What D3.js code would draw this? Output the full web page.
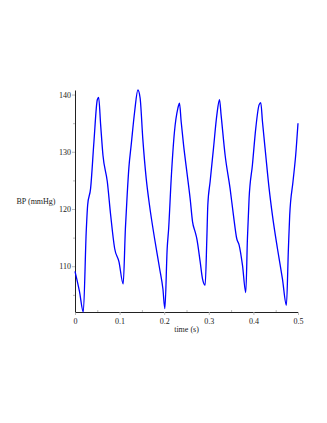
<!DOCTYPE html>
<html>
<head>
<meta charset="utf-8">
<script src="https://cdn.jsdelivr.net/npm/d3@7"></script>
<style>
	body { margin: 0; background: #fff; }
</style>
</head>
<body>
<script>
// time (s)
var times = [0, 0.01, 0.0186, 0.0253, 0.0284, 0.035, 0.0425, 0.05, 0.053, 0.0575, 0.0627, 0.0724, 0.08, 0.0889, 0.0985, 0.108,
	0.113, 0.117, 0.121, 0.126, 0.1337, 0.141, 0.146, 0.152, 0.1597, 0.167, 0.1785, 0.1897, 0.197, 0.2015,
	0.2067, 0.21, 0.2157, 0.223, 0.2306, 0.2343, 0.238, 0.2434, 0.2508, 0.2582, 0.2635, 0.2694, 0.2732, 0.2806, 0.2859, 0.2918,
	0.2956, 0.2978, 0.303, 0.3105, 0.318, 0.324, 0.3276, 0.3366, 0.3477, 0.3553, 0.3627, 0.368, 0.3755, 0.3829,
	0.3866, 0.3903, 0.3978, 0.4053, 0.4127, 0.4165, 0.4203, 0.4277, 0.4352, 0.4427, 0.4539, 0.4651, 0.474,
	0.4785, 0.4814, 0.4888, 0.4948, 0.5];
// blood pressure (mmHg)
var pressure = [109.1, 105.6, 102.0, 116.3, 120.7, 123.6, 131.8, 139.1, 139.5, 134.7, 129.4, 124.8, 118.9, 113.1, 110.8, 106.9,
	116.6, 122.5, 127.4, 131.2, 137.0, 140.8, 139.4, 132.3, 125.3, 120.7, 114.8, 109.6, 106.1, 102.6,
	113.1, 116.6, 125.3, 133.5, 137.6, 138.5, 135.3, 131.2, 126.5, 121.8, 117.8, 116.0, 114.8, 110.8, 107.8, 106.7,
	114.8, 120.7, 124.8, 130.6, 136.4, 139.1, 136.4, 129.4, 123.6, 118.9, 114.8, 113.7, 110.2, 105.4,
	114.8, 121.8, 127.7, 134.1, 138.2, 138.6, 135.3, 129.4, 123.6, 118.9, 113.1, 107.8, 103.2,
	113.1, 118.9, 124.8, 129.4, 135.0];

var xTicks = [0, 0.1, 0.2, 0.3, 0.4, 0.5];
var xMinorTicks = [0.05, 0.15, 0.25, 0.35, 0.45];
var yTicks = [110, 120, 130, 140];
var yMinorTicks = [105, 115, 125, 135];

var serif = "'Liberation Serif', 'Times New Roman', Times, serif";

var margin = { top: 90, right: 29, bottom: 111, left: 75 };
var width = 327 - margin.left - margin.right;
var height = 423 - margin.top - margin.bottom;

var data = times.map(function(t, i) {
	return { t: t, v: pressure[i] };
});

var svg = d3.select('body')
	.append('svg')
		.attr('width', 327)
		.attr('height', 423)
	.append('g')
		.attr('transform', 'translate(' + margin.left + ',' + margin.top + ')');

var x = d3.scaleLinear()
	.domain([0, 0.5])
	.range([0, width]);

var y = d3.scaleLinear()
	.domain(d3.extent(pressure))
	.range([height, 0]);

// minor ticks drawn first, light grey
svg.append('g')
	.attr('transform', 'translate(0,' + height + ')')
	.call(d3.axisBottom(x).tickValues(xMinorTicks).tickSize(-2).tickFormat(''))
	.call(function(g) { g.select('.domain').remove(); })
	.selectAll('line').attr('stroke', '#bbb');

svg.append('g')
	.call(d3.axisLeft(y).tickValues(yMinorTicks).tickSize(2).tickFormat(''))
	.call(function(g) { g.select('.domain').remove(); })
	.selectAll('line').attr('stroke', '#bbb');

var xAxis = d3.axisBottom(x)
	.tickValues(xTicks)
	.tickSize(3)
	.tickSizeOuter(0)
	.tickPadding(3)
	.tickFormat(function(d) { return d === 0 ? '0' : d3.format('.1f')(d); });

svg.append('g')
	.attr('class', 'x axis')
	.attr('transform', 'translate(0,' + height + ')')
	.call(xAxis)
	.attr('font-family', serif)
	.attr('font-size', 8)
	.call(function(g) {
		g.select('.domain').attr('stroke', '#222');
		g.selectAll('.tick line').attr('stroke', '#bbb');
		g.selectAll('.tick text').attr('fill', '#222');
	});

var yAxis = d3.axisLeft(y)
	.tickValues(yTicks)
	.tickSize(3)
	.tickSizeOuter(0)
	.tickPadding(1);

svg.append('g')
	.attr('class', 'y axis')
	.call(yAxis)
	.attr('font-family', serif)
	.attr('font-size', 8)
	.call(function(g) {
		g.select('.domain').attr('stroke', '#222');
		g.selectAll('.tick line').attr('stroke', '#bbb');
		g.selectAll('.tick text').attr('fill', '#222');
	});

// the pressure trace
var line = d3.line()
	.x(function(d) { return x(d.t); })
	.y(function(d) { return y(d.v); })
	.curve(d3.curveMonotoneX);

svg.append('path')
	.datum(data)
	.attr('fill', 'none')
	.attr('stroke', '#0000ff')
	.attr('stroke-width', 1.3)
	.attr('stroke-linejoin', 'round')
	.attr('d', line);

svg.append('text')
	.attr('x', width / 2)
	.attr('y', height + 20)
	.attr('font-family', serif)
	.attr('font-size', 8)
	.attr('fill', '#222')
	.style('text-anchor', 'middle')
	.text('time (s)');

svg.append('text')
	.attr('x', -39)
	.attr('y', height / 2 + 3)
	.attr('font-family', serif)
	.attr('font-size', 8)
	.attr('fill', '#222')
	.style('text-anchor', 'middle')
	.text('BP (mmHg)');
</script>
</body>
</html>
